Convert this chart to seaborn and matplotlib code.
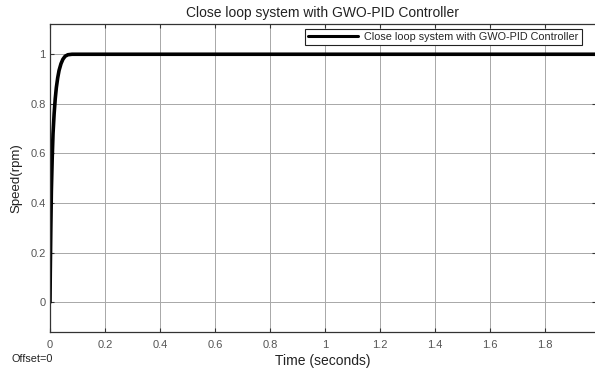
import numpy as np
import pandas as pd
import matplotlib
matplotlib.use("Agg")
import matplotlib.pyplot as plt
import seaborn as sns

# Step response of the closed loop with the GWO-tuned PID controller
time_s = [0.0, 0.001, 0.003, 0.005, 0.008, 0.011, 0.015, 0.019, 0.023, 0.028,
          0.033, 0.040, 0.047, 0.055, 0.065, 0.080, 0.100, 0.5, 1.0, 1.5, 2.0]
speed = [0.0, 0.12, 0.30, 0.45, 0.58, 0.68, 0.76, 0.82, 0.865, 0.905,
         0.935, 0.962, 0.980, 0.992, 0.998, 1.0, 1.0, 1.0, 1.0, 1.0, 1.0]
x_ticks = [0, 0.2, 0.4, 0.6, 0.8, 1.0, 1.2, 1.4, 1.6, 1.8]
x_tick_labels = ["0", "0.2", "0.4", "0.6", "0.8", "1", "1.2", "1.4", "1.6", "1.8"]
y_ticks = [0, 0.2, 0.4, 0.6, 0.8, 1.0]
y_tick_labels = ["0", "0.2", "0.4", "0.6", "0.8", "1"]
series_name = "Close loop system with GWO-PID Controller"

df = pd.DataFrame({"Time": time_s, "Speed": speed, "Series": series_name})

sns.set_theme(style="whitegrid")
plt.rcParams["font.family"] = ["Liberation Sans", "DejaVu Sans"]

fig = plt.figure(figsize=(5.95, 3.69), dpi=100)
ax = fig.add_axes([50 / 595, 1 - 332 / 369, 546 / 595, (332 - 24) / 369])

sns.lineplot(data=df, x="Time", y="Speed", hue="Series", palette=["black"],
             linewidth=2.6, ax=ax)

ax.set_xlim(0, 546 / 275)
ax.set_ylim(-0.12, 1.122)
ax.set_xticks(x_ticks)
ax.set_xticklabels(x_tick_labels)
ax.set_yticks(y_ticks)
ax.set_yticklabels(y_tick_labels)

ax.grid(True, color="#a8a8a8", linewidth=0.7, linestyle="-")
for side in ["left", "bottom", "top", "right"]:
    ax.spines[side].set_visible(True)
    ax.spines[side].set_color("#333333")
    ax.spines[side].set_linewidth(0.9)

ax.tick_params(axis="both", which="both", direction="in", length=3,
               width=0.8, color="#333333", labelsize=8, labelcolor="#555555",
               top=True, right=True, bottom=True, left=True)
ax.tick_params(axis="x", pad=6)
ax.tick_params(axis="y", pad=3)

ax.set_title(series_name, fontsize=10, color="#222222", pad=5)
ax.set_xlabel("Time (seconds)", fontsize=10, color="#222222", labelpad=3)
ax.set_ylabel("Speed(rpm)", fontsize=9.5, color="#222222", labelpad=2)
ax.yaxis.set_label_coords(-28 / 546, 0.5)

leg = ax.legend(loc="upper right", bbox_to_anchor=(532 / 546, 0.985),
                fontsize=7.8, frameon=True, fancybox=False, handlelength=4.6,
                borderpad=0.3, borderaxespad=0.0, handletextpad=0.6)
leg.get_frame().set_edgecolor("#222222")
leg.get_frame().set_linewidth(0.8)
leg.get_frame().set_facecolor("white")
leg.get_frame().set_alpha(1.0)
for line in leg.get_lines():
    line.set_linewidth(2.2)

fig.text(12 / 595, 1 - 359 / 369, "Offset=0", fontsize=7.8, color="#222222",
         va="center", ha="left")

fig.savefig("out.png", dpi=100, facecolor="white")
